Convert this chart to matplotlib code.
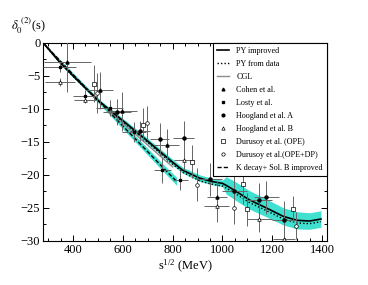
import matplotlib
matplotlib.use("Agg")
import matplotlib.pyplot as plt
import numpy as np
from matplotlib.ticker import MultipleLocator
from matplotlib.lines import Line2D

plt.rcParams['font.family'] = ['Liberation Serif', 'DejaVu Serif']
plt.rcParams['mathtext.fontset'] = 'stix'

# ---- curves ----
py_x = [280, 348, 400, 500, 600, 668, 700, 800, 840, 908, 955, 1000, 1015, 1050, 1108, 1175, 1244, 1300, 1350, 1395]
py_y = [0, -3.0, -5.0, -8.7, -11.8, -13.9, -14.9, -18.1, -19.3, -20.5, -21.0, -21.3, -21.6, -22.4, -23.8, -25.0, -26.3, -26.9, -27.0, -26.7]
py_err = [0.1, 0.2, 0.25, 0.3, 0.35, 0.4, 0.4, 0.45, 0.45, 0.5, 0.5, 0.5, 1.3, 1.4, 1.4, 1.35, 1.3, 1.3, 1.25, 1.25]
pyd_y = [0, -3.0, -5.05, -8.8, -11.95, -14.1, -15.1, -18.4, -19.6, -20.9, -21.4, -21.7, -22.0, -22.8, -24.2, -25.4, -26.7, -27.3, -27.4, -27.1]

kd_x = [280, 400, 500, 600, 700, 761, 816]
kd_y = [0, -4.8, -8.7, -12.6, -16.5, -18.9, -21.0]
kd_err = [0.1, 0.25, 0.35, 0.45, 0.5, 0.55, 0.6]

cgl_x = [280, 400, 500, 600, 700, 800]
cgl_y = [0, -4.9, -8.7, -12.2, -15.5, -18.8]

# ---- data points ----
losty_x = [347, 448, 547, 645, 759, 831]
losty_y = [-3.7, -8.0, -9.9, -13.5, -19.3, -20.8]
losty_xe = [67, 48, 55, 50, 35, 30]
losty_ye = [0.8, 0.8, 1.2, 1.5, 2.0, 1.5]

cohen_x = [377, 507, 597, 777, 977]
cohen_y = [-2.9, -7.2, -10.4, -15.5, -23.4]
cohen_xe = [95, 55, 60, 50, 40]
cohen_ye = [4.5, 2.8, 3.0, 2.5, 2.5]

hoogA_x = [576, 668, 748, 845, 948, 1047, 1148, 1175, 1247]
hoogA_y = [-10.5, -13.4, -14.6, -14.4, -20.7, -22.5, -23.8, -23.4, -26.9]
hoogA_xe = [55, 40, 38, 42, 50, 50, 50, 50, 50]
hoogA_ye = [2.0, 1.5, 2.5, 2.5, 2.5, 2.5, 2.5, 2.5, 3.0]

hoogB_x = [347, 448, 845, 977, 1148, 1247]
hoogB_y = [-6.0, -8.6, -17.7, -24.7, -26.7, -29.7]
hoogB_xe = [60, 45, 40, 50, 50, 45]
hoogB_ye = [0.6, 0.6, 1.5, 2.5, 2.0, 1.5]

durO_x = [483, 683, 879, 1081, 1097, 1281]
durO_y = [-6.2, -12.4, -18.0, -21.4, -25.2, -25.2]
durO_ye = [2.8, 2.5, 2.5, 3.0, 2.5, 2.0]

durD_x = [497, 697, 897, 1047, 1297]
durD_y = [-7.6, -12.1, -21.5, -25.0, -27.7]
durD_ye = [3.0, 2.5, 2.5, 2.5, 2.0]

labels = ['PY improved', 'PY from data', 'CGL', 'Cohen et al.', 'Losty et al.',
          'Hoogland et al. A', 'Hoogland et al. B', 'Durusoy et al. (OPE)',
          'Durusoy et al.(OPE+DP)', 'K decay+ Sol. B improved']

cyan = '#3fe0d0'
ecol = '0.4'

fig = plt.figure(figsize=(3.68, 2.85), dpi=100)
ax = fig.add_axes([0.117, 0.155, 0.772, 0.695])

a = np.array
ax.fill_between(py_x, a(py_y) - a(py_err), a(py_y) + a(py_err), color=cyan, lw=0, zorder=1)
ax.fill_between(kd_x, a(kd_y) - a(kd_err), a(kd_y) + a(kd_err), color=cyan, lw=0, zorder=1)

ax.plot(py_x, py_y, color='black', lw=1.2, zorder=4)
ax.plot(py_x, pyd_y, color='black', lw=1.0, ls=(0, (1, 1.5)), zorder=4)
ax.plot(cgl_x, cgl_y, color='0.55', lw=1.0, zorder=3)
ax.plot(kd_x, kd_y, color='black', lw=1.0, ls=(0, (3, 1.5)), zorder=4)

ms = 2.2
ekw = dict(ecolor=ecol, elinewidth=0.7, capsize=0, ls='none', zorder=5)
ax.errorbar(cohen_x, cohen_y, xerr=cohen_xe, yerr=cohen_ye, marker='^', ms=ms, mfc='black', mec='black', **ekw)
ax.errorbar(losty_x, losty_y, xerr=losty_xe, yerr=losty_ye, marker='s', ms=ms * 0.8, mfc='black', mec='black', **ekw)
ax.errorbar(hoogA_x, hoogA_y, xerr=hoogA_xe, yerr=hoogA_ye, marker='o', ms=ms, mfc='black', mec='black', **ekw)
ax.errorbar(hoogB_x, hoogB_y, xerr=hoogB_xe, yerr=hoogB_ye, marker='^', ms=ms + 0.4, mfc='white', mec='black', mew=0.5, **ekw)
ax.errorbar(durO_x, durO_y, yerr=durO_ye, marker='s', ms=ms + 0.4, mfc='white', mec='black', mew=0.5, **ekw)
ax.errorbar(durD_x, durD_y, yerr=durD_ye, marker='o', ms=ms + 0.4, mfc='white', mec='black', mew=0.5, **ekw)

lms = 2.0
handles = [
    Line2D([], [], color='black', lw=1.2),
    Line2D([], [], color='black', lw=1.0, ls=(0, (1, 1.5))),
    Line2D([], [], color='0.55', lw=1.0),
    Line2D([], [], ls='none', marker='^', ms=lms, mfc='black', mec='black'),
    Line2D([], [], ls='none', marker='s', ms=lms * 0.8, mfc='black', mec='black'),
    Line2D([], [], ls='none', marker='o', ms=lms, mfc='black', mec='black'),
    Line2D([], [], ls='none', marker='^', ms=lms + 0.4, mfc='white', mec='black', mew=0.5),
    Line2D([], [], ls='none', marker='s', ms=lms + 0.4, mfc='white', mec='black', mew=0.5),
    Line2D([], [], ls='none', marker='o', ms=lms + 0.4, mfc='white', mec='black', mew=0.5),
    Line2D([], [], color='black', lw=1.0, ls=(0, (3, 1.5))),
]

ax.set_xlim(280, 1420)
ax.set_ylim(-30, 0)
ax.xaxis.set_major_locator(MultipleLocator(200))
ax.xaxis.set_minor_locator(MultipleLocator(50))
ax.yaxis.set_major_locator(MultipleLocator(5))
ax.yaxis.set_minor_locator(MultipleLocator(2.5))
ax.tick_params(which='both', direction='in', top=True, right=True, labelsize=9, width=0.7, pad=2)
ax.tick_params(which='major', length=4.5)
ax.tick_params(which='minor', length=2.5)
for s in ax.spines.values():
    s.set_linewidth(0.8)

ax.set_xlabel(r'$\mathregular{s^{1/2}}$ (MeV)', fontsize=9, labelpad=2)
fig.text(0.03, 0.875, r'$\delta_0^{\ (2)}$(s)', fontsize=9, ha='left', va='bottom')

leg = ax.legend(handles, labels, loc='upper right', fontsize=5.9, frameon=True, fancybox=False,
                edgecolor='black', framealpha=1, borderaxespad=0, handlelength=1.4,
                labelspacing=0.6, borderpad=0.55, handletextpad=0.9)
leg.get_frame().set_linewidth(0.8)

fig.savefig('out.png', dpi=100)
